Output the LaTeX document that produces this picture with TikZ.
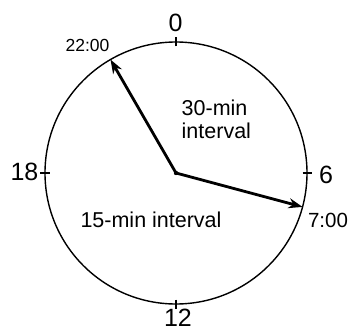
\documentclass[tikz,border=0pt]{standalone}
\usepackage{fontspec}
\setmainfont{Liberation Sans}
\usetikzlibrary{arrows.meta}
\begin{document}
\begin{tikzpicture}[x=1pt,y=1pt,
  rim/.style={line width=1.4pt},
  tick/.style={line width=1.1pt},
  hand/.style={line width=2.8pt,-{Stealth[length=14pt,width=10pt]}},
  big/.style={inner sep=0pt,font=\fontsize{25}{28}\selectfont},
  lab/.style={inner sep=0pt,font=\fontsize{21.5}{22.5}\selectfont}]
\useasboundingbox (0,0) rectangle (348,330);
\coordinate (c) at (176,157);
\draw[rim] (c) circle[radius=131];
% ticks
\foreach \a/\n in {90/t0,0/t6,-90/t12,180/t18}{
  \coordinate (\n i) at ([shift={(\a:126.5)}]c);
  \coordinate (\n o) at ([shift={(\a:136)}]c);
  \draw[tick] (\n i) -- (\n o);
}
% hand end points
\coordinate (p22) at ([shift={(120:131)}]c);
\coordinate (p7) at ([shift={(-15:131)}]c);
\draw[hand] (c) -- (p22);
\draw[hand] (c) -- (p7);
\fill (c) circle[radius=2.2];
% labels
\node[big] (l0) at (175.5,307.5) {0};
\node[big] (l6) at (326,155.5) {6};
\node[big] (l12) at (178,12.5) {12};
\node[big] (l18) at (24.5,158) {18};
\node[inner sep=0pt,font=\fontsize{17.5}{20}\selectfont] (l22) at (87.5,285) {22:00};
\node[inner sep=0pt,font=\fontsize{20.5}{22}\selectfont] (l7) at (328,109.5) {7:00};
\node[lab,align=left,anchor=north west] (i30) at (181.5,230) {30-min\\interval};
\node[lab] (i15) at (151,110.5) {15-min interval};
\end{tikzpicture}
\end{document}
